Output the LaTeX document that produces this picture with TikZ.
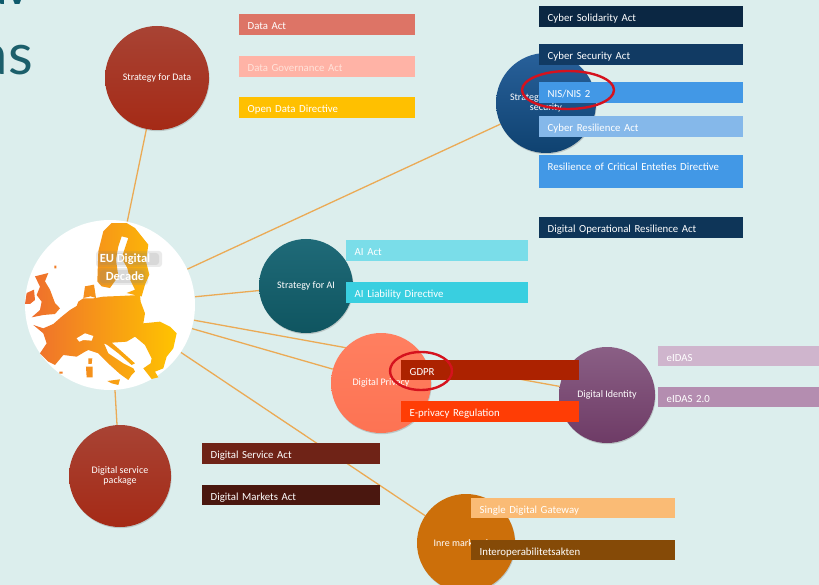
\documentclass[tikz,border=0pt]{standalone}
\usepackage{fontspec}
\setmainfont{Carlito}
\newfontfamily\titlefont{Lato}
\usetikzlibrary{shadows,shapes.geometric}
\definecolor{bgc}{HTML}{DCEEED}
\definecolor{linec}{HTML}{EBAA55}
\definecolor{ringc}{HTML}{D5121E}
\pgfdeclarelayer{lines}
\pgfsetlayers{lines,main}
\tikzset{
  hub/.style={circle,inner sep=0pt,minimum size=#1,text=white,align=center,font=\fontsize{10}{10.5}\selectfont,
    drop shadow={shadow xshift=0.6pt,shadow yshift=-1.2pt,opacity=.35}},
  conn/.style={draw=linec,line width=1.3pt},
  ring/.style={draw=ringc,line width=2.4pt,ellipse,inner sep=0pt},
  barbox/.style={rectangle,inner xsep=8.5pt,inner ysep=0pt,anchor=north west,align=left,text height=10pt,text depth=0pt,font=\fontsize{10.8}{12}\selectfont},
  labelhalo/.style={gray,opacity=.16,rounded corners=3pt},
}
\definecolor{c1}{HTML}{DD7466}\definecolor{c2}{HTML}{FFB3A6}\definecolor{c3}{HTML}{FFC000}
\definecolor{c4}{HTML}{0B2743}\definecolor{c5}{HTML}{113A63}\definecolor{c6}{HTML}{4298E6}
\definecolor{c7}{HTML}{85B8EA}\definecolor{c9}{HTML}{0E3558}\definecolor{c10}{HTML}{7ADDE9}
\definecolor{c11}{HTML}{39CFE0}\definecolor{c12}{HTML}{AC2200}\definecolor{c13}{HTML}{FF3D05}
\definecolor{c14}{HTML}{CFB5CD}\definecolor{c15}{HTML}{B48DB0}\definecolor{c16}{HTML}{6F2317}
\definecolor{c17}{HTML}{4A170F}\definecolor{c18}{HTML}{FABB75}\definecolor{c19}{HTML}{854A07}
\newcommand{\barn}[8]{\node[barbox,fill=#6,text=#7,minimum width={#4pt-#2pt},minimum height={#5pt-#3pt},text width={#4pt-#2pt-17pt}] (#1) at (#2,#3) {#8};}
\definecolor{titleteal}{HTML}{1C5F6B}\definecolor{titledark}{HTML}{0E5A6C}
\definecolor{mapl}{HTML}{EE6B2F}\definecolor{mapr}{HTML}{FFC400}
\definecolor{rt}{HTML}{A84334}\definecolor{rb}{HTML}{A52A16}
\definecolor{cyt}{HTML}{28609A}\definecolor{cyb}{HTML}{0F4270}
\definecolor{ait}{HTML}{1F6A78}\definecolor{aib}{HTML}{0F5560}
\definecolor{pt}{HTML}{FF7F60}\definecolor{pb}{HTML}{FD7353}
\definecolor{idt}{HTML}{8A5F85}\definecolor{idb}{HTML}{6E3B66}
\definecolor{inc}{HTML}{CC6F0A}\definecolor{govt}{HTML}{FFE3DA}
\begin{document}
\begin{tikzpicture}[x=1pt,y=-1pt]
\useasboundingbox (0,0) rectangle (819,585);
\clip (0,0) rectangle (819,585);
\begin{pgfonlayer}{lines}
\fill[bgc] (0,0) rectangle (819,585);
\end{pgfonlayer}
\node[anchor=base east,text=titleteal,inner sep=0pt,font=\titlefont\fontsize{57}{57}\selectfont] (titleb) at (33,75) {as};
\node[anchor=base east,text=titledark,inner sep=0pt,font=\titlefont\bfseries\fontsize{42}{42}\selectfont] (titlea) at (29,5) {av};

% hubs
\node[circle,inner sep=0pt,minimum size=170pt,fill=white] (eu) at (110,305) {};
\begin{scope}[shift={(20,300)},x=0.3333pt,y=-0.3333pt]
\shade[left color=mapl,right color=mapr,line join=round]
  (40,75)--(70,85)--(100,72)--(125,50)--(150,30)--(170,18)--(175,5)--(190,-5)--(220,-5)--(250,-10)--(300,-12)--(360,-15)--(362,5)--(375,40)--(370,70)--(420,65)--(450,80)--(470,100)--(460,145)--(440,170)--(430,205)--(405,215)--(415,232)--(395,237)--(370,205)--(392,190)--(395,175)--(375,135)--(345,110)--(320,125)--(275,128)--(300,150)--(345,190)--(335,195)--(295,160)--(262,135)--(252,130)--(265,160)--(310,190)--(340,205)--(345,215)--(335,225)--(325,240)--(300,222)--(270,195)--(235,160)--(205,150)--(195,155)--(170,170)--(130,165)--(105,195)--(85,185)--(60,160)--(80,130)--(70,100)--cycle
  (262,243)--(300,238)--(295,255)--(275,250)--cycle
  (198,200)--(218,200)--(218,232)--(200,232)--cycle
  (205,175)--(217,175)--(215,192)--(205,192)--cycle
  (118,215)--(128,215)--(128,221)--(118,221)--cycle
  (45,-71)--(65,-76)--(85,-81)--(75,-56)--(90,-31)--(105,9)--(120,25)--(105,42)--(70,45)--(35,52)--(60,30)--(65,5)--(50,-15)--(60,-40)--cycle
  (20,-21)--(42,-31)--(45,0)--(30,12)--(15,12)--cycle
  (195,-41)--(222,-46)--(228,-6)--(212,-11)--(190,-6)--cycle
  (103,-103)--(109,-103)--(109,-95)--(103,-95)--cycle
  (250,-206)--(275,-231)--(320,-231)--(345,-216)--(385,-166)--(378,-116)--(388,-76)--(375,-46)--(365,-11)--(345,-15)--(320,-21)--(345,-31)--(330,-61)--(322,-96)--(305,-126)--(325,-186)--(305,-191)--(295,-161)--(288,-121)--(295,-71)--(270,-36)--(245,-41)--(232,-56)--(235,-146)--cycle;
\fill[white] (170,115)--(195,100)--(220,108)--(215,122)--(190,120)--(178,125)--cycle;
\end{scope}
\fill[labelhalo] (96,251) rectangle (162,267);
\fill[labelhalo] (99,253) rectangle (159,265);
\fill[labelhalo] (98,268) rectangle (148,285);
\fill[labelhalo] (100,270) rectangle (145,283);
\node[text=white,align=center,inner sep=0pt,font=\bfseries\fontsize{12.5}{17.5}\selectfont] (eulabel) at (125,267) {EU Digital\\Decade};

\node[hub=104pt,top color=rt,bottom color=rb] (data) at (157,78) {Strategy for Data};
\node[hub=100pt,top color=cyt,bottom color=cyb] (cyber) at (546,103) {Strategy for cyber\\security};
\node[hub=94pt,top color=ait,bottom color=aib] (ai) at (306,286) {Strategy for AI};
\node[hub=100pt,top color=pt,bottom color=pb] (privacy) at (381,383) {Digital Privacy};
\node[hub=96pt,top color=idt,bottom color=idb] (identity) at (607,395) {Digital Identity};
\node[hub=102pt,top color=rt,bottom color=rb] (service) at (120,476) {Digital service\\package};
\node[hub=98pt,fill=inc] (inre) at (466,543) {Inre marknaden};

\begin{pgfonlayer}{lines}
\foreach \t in {data,cyber,ai,privacy,identity,service,inre}
  \draw[conn] (eu) -- (\t);
\end{pgfonlayer}

% bars
\barn{b1}{239}{14}{415}{35}{c1}{white}{Data Act}
\barn{b2}{239}{56}{415}{77}{c2}{govt}{Data Governance Act}
\barn{b3}{239}{97}{415}{118}{c3}{white}{Open Data Directive}
\barn{b4}{539}{6}{743}{27}{c4}{white}{Cyber Solidarity Act}
\barn{b5}{539}{44}{743}{65}{c5}{white}{Cyber Security Act}
\barn{b6}{539}{82}{743}{103}{c6}{white}{NIS/NIS 2}
\barn{b7}{539}{116}{743}{137}{c7}{white}{Cyber Resilience Act}
\node[barbox,fill=c6,text=white,minimum width=204pt,text width=187pt,text height=15pt,text depth=18pt] (b8) at (539,155) {Resilience of Critical Enteties Directive};
\barn{b9}{539}{217}{743}{238}{c9}{white}{Digital Operational Resilience Act}
\barn{b10}{346}{240}{528}{261}{c10}{white}{AI Act}
\barn{b11}{346}{282}{528}{303}{c11}{white}{AI Liability Directive}
\barn{b12}{401}{360}{579}{380}{c12}{white}{GDPR}
\barn{b13}{401}{401}{579}{422}{c13}{white}{E-privacy Regulation}
\barn{b14}{658}{346}{830}{366}{c14}{white}{eIDAS}
\barn{b15}{658}{387}{830}{407}{c15}{white}{eIDAS 2.0}
\barn{b16}{202}{443}{380}{464}{c16}{white}{Digital Service Act}
\barn{b17}{202}{485}{380}{505}{c17}{white}{Digital Markets Act}
\barn{b18}{471}{498}{675}{518}{c18}{white}{Single Digital Gateway}
\barn{b19}{471}{540}{675}{560}{c19}{white}{Interoperabilitetsakten}

\node[ring,draw,minimum width=92pt,minimum height=38pt] (r1) at (568,90) {};
\node[ring,draw,minimum width=62pt,minimum height=38pt] (r2) at (421,371) {};
\end{tikzpicture}
\end{document}
